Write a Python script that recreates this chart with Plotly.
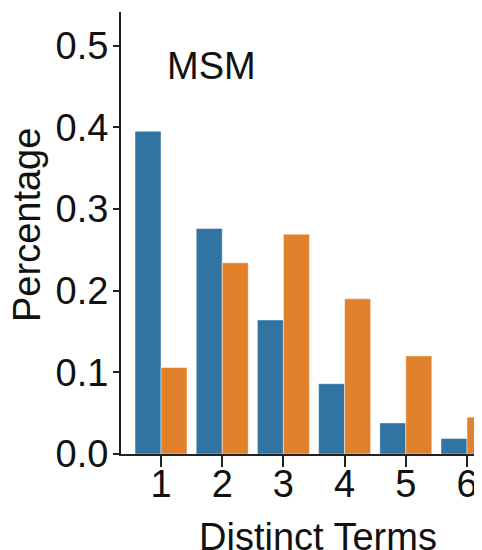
import plotly.graph_objects as go

categories = ["1", "2", "3", "4", "5", "6"]
series_a = [0.395, 0.276, 0.164, 0.086, 0.038, 0.019]
series_b = [0.106, 0.234, 0.269, 0.190, 0.120, 0.045]
y_ticks = [0.0, 0.1, 0.2, 0.3, 0.4, 0.5]
y_tick_labels = ["0.0", "0.1", "0.2", "0.3", "0.4", "0.5"]

FONT = "Liberation Sans, Arial, Helvetica, sans-serif"
FS = 38
TXT = "#111111"

fig = go.Figure()
fig.add_trace(go.Bar(x=categories, y=series_a,
                     marker=dict(color="#3274a1", line=dict(color="rgba(255,255,255,0.45)", width=1)),
                     showlegend=False))
fig.add_trace(go.Bar(x=categories, y=series_b,
                     marker=dict(color="#e1812c", line=dict(color="rgba(255,255,255,0.45)", width=1)),
                     showlegend=False))

# the page body has an 8px margin, so the figure is sized/placed to compensate
fig.update_layout(
    width=474, height=542,
    margin=dict(l=113, r=0, t=4, b=96, autoexpand=False),
    paper_bgcolor="white", plot_bgcolor="white",
    barmode="group", bargap=0.15, bargroupgap=0,
    font=dict(family=FONT, size=FS, color=TXT),
    annotations=[
        dict(text="MSM", x=0.1205, y=0.877, xref="paper", yref="paper",
             xanchor="left", yanchor="middle", showarrow=False,
             font=dict(family=FONT, size=FS, color=TXT)),
        dict(text="Distinct Terms", x=0.547, y=-0.188, xref="paper", yref="paper",
             xanchor="center", yanchor="middle", showarrow=False,
             font=dict(family=FONT, size=FS, color=TXT)),
        dict(text="Percentage", x=-0.261, y=0.5176, xref="paper", yref="paper",
             xanchor="center", yanchor="middle", showarrow=False, textangle=-90,
             font=dict(family=FONT, size=FS, color=TXT)),
    ],
)
fig.update_xaxes(
    type="category", range=[-0.654, 5.245], automargin=False,
    showline=True, linecolor="#222222", linewidth=2,
    ticks="outside", ticklen=11, tickwidth=2, tickcolor="#222222",
    ticklabelstandoff=-16,
    showgrid=False, zeroline=False,
    tickfont=dict(size=FS),
)
fig.update_yaxes(
    range=[0, 0.541], automargin=False,
    tickvals=y_ticks, ticktext=y_tick_labels,
    showline=True, linecolor="#222222", linewidth=2,
    ticks="outside", ticklen=6, tickwidth=2, tickcolor="#222222",
    ticklabelstandoff=-3,
    showgrid=False, zeroline=False,
    tickfont=dict(size=FS),
)

fig.write_html("out.html")
